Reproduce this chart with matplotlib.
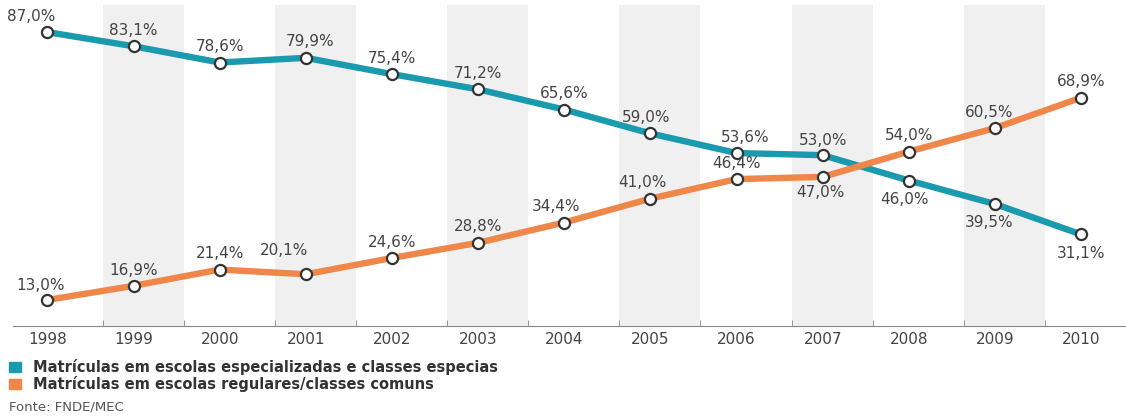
import matplotlib.pyplot as plt
from matplotlib.patches import Rectangle

# data
anos = [1998, 1999, 2000, 2001, 2002, 2003, 2004, 2005, 2006, 2007, 2008, 2009, 2010]
especiais = [87.0, 83.1, 78.6, 79.9, 75.4, 71.2, 65.6, 59.0, 53.6, 53.0, 46.0, 39.5, 31.1]
regulares = [13.0, 16.9, 21.4, 20.1, 24.6, 28.8, 34.4, 41.0, 46.4, 47.0, 54.0, 60.5, 68.9]
rotulo_especiais = 'Matrículas em escolas especializadas e classes especias'
rotulo_regulares = 'Matrículas em escolas regulares/classes comuns'
fonte = 'Fonte: FNDE/MEC'

teal = '#1a9aae'
laranja = '#f0874a'
cinza_txt = '#444444'

# label offsets in points (dx, dy)
off_esp = [(-12, 6), (0, 6), (0, 6), (3, 6), (0, 6), (0, 6), (0, 6), (-3, 6),
           (6, 6), (0, 5), (-3, -8), (-4, -8), (0, -8)]
off_reg = [(-5, 5), (0, 6), (0, 6), (-16, 12), (0, 6), (0, 6), (-6, 6), (-6, 6),
           (0, 6), (-2, -6), (0, 6), (-4, 6), (0, 6)]

fig = plt.figure(figsize=(11.26, 4.16), dpi=100)
ax = fig.add_axes([0.0115, 0.2163, 0.9885, 0.7717])

# alternating grey bands
for a in anos:
    if a % 2 == 1:
        ax.add_patch(Rectangle((a - 0.36, -10), 0.94, 120, color='#f0f0f0', lw=0, zorder=0))

ax.plot(anos, especiais, color=teal, lw=4.6, zorder=2, solid_capstyle='round')
ax.plot(anos, regulares, color=laranja, lw=4.6, zorder=2, solid_capstyle='round')
ax.plot(anos, especiais, 'o', ms=8, mfc='white', mec='#333333', mew=1.6, zorder=3)
ax.plot(anos, regulares, 'o', ms=8, mfc='white', mec='#333333', mew=1.6, zorder=3)

def fmt(v):
    return ('%.1f%%' % v).replace('.', ',')

for x, v, o in zip(anos, especiais, off_esp):
    ax.annotate(fmt(v), (x, v), xytext=o, textcoords='offset points',
                ha='center', va='bottom' if o[1] > 0 else 'top',
                fontsize=11, color=cinza_txt, zorder=4)
for x, v, o in zip(anos, regulares, off_reg):
    ax.annotate(fmt(v), (x, v), xytext=o, textcoords='offset points',
                ha='center', va='bottom' if o[1] > 0 else 'top',
                fontsize=11, color=cinza_txt, zorder=4)

ax.set_xlim(1997.6, 2010.52)
ax.set_ylim(5.8, 94.5)
for s in ['top', 'right', 'left']:
    ax.spines[s].set_visible(False)
ax.spines['bottom'].set_color('#888888')
ax.set_yticks([])
ax.set_xticks(anos)
ax.set_xticklabels([str(a) for a in anos], fontsize=11, color=cinza_txt)
ax.tick_params(axis='x', which='major', length=0, pad=4)
bordas = []
for a in anos:
    if a % 2 == 1:
        bordas += [a - 0.36, a + 0.58]
ax.set_xticks(bordas, minor=True)
ax.tick_params(axis='x', which='minor', length=4, direction='in', color='#888888')

# legend and source
fig.add_artist(Rectangle((9 / 1126, 1 - 372 / 416), 12 / 1126, 10 / 416, color=teal, transform=fig.transFigure))
fig.add_artist(Rectangle((9 / 1126, 1 - 389 / 416), 12 / 1126, 10 / 416, color=laranja, transform=fig.transFigure))
fig.text(33 / 1126, 1 - 367 / 416, rotulo_especiais, fontsize=10.5, fontweight='bold', color='#333333', va='center')
fig.text(33 / 1126, 1 - 384 / 416, rotulo_regulares, fontsize=10.5, fontweight='bold', color='#333333', va='center')
fig.text(9 / 1126, 1 - 407 / 416, fonte, fontsize=9.5, color='#555555', va='center')

fig.savefig('out.png', dpi=100, facecolor='white')
